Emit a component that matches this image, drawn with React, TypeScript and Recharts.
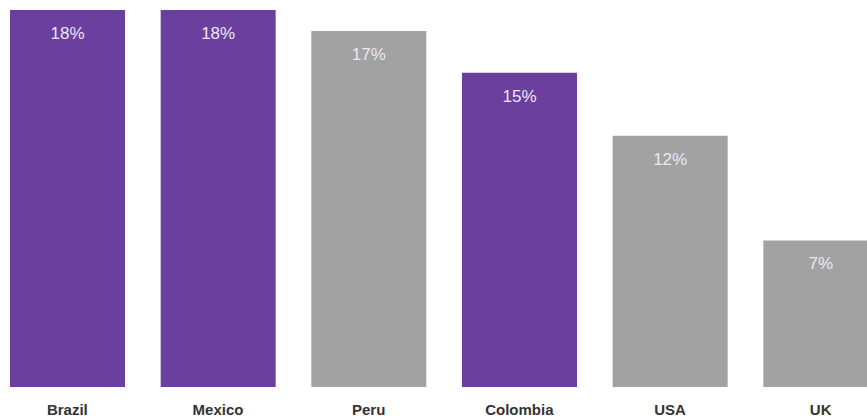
import { BarChart, Bar, XAxis, YAxis, Cell, LabelList } from 'recharts';

const countries = ['Brazil', 'Mexico', 'Peru', 'Colombia', 'USA', 'UK'];
const shares = [18, 18, 17, 15, 12, 7];
const highlighted = ['Brazil', 'Mexico', 'Colombia'];

const PURPLE = '#6a3f9e';
const GRAY = '#a2a2a2';

const data = countries.map((c, i) => ({ country: c, share: shares[i] }));

export default function App() {
  return (
    <div
      style={{
        position: 'fixed',
        left: 0,
        top: 0,
        width: 867,
        height: 419,
        overflow: 'hidden',
        background: '#ffffff',
        fontFamily: '"Liberation Sans", Arial, sans-serif',
      }}
    >
      <div style={{ position: 'absolute', left: -8, top: 0 }}>
        <BarChart
          width={904}
          height={419}
          data={data}
          margin={{ top: 10, right: 0, bottom: 0, left: 0 }}
          barSize={115}
        >
          <XAxis
            dataKey="country"
            height={32}
            axisLine={false}
            tickLine={false}
            tickMargin={11}
            interval={0}
            tick={{ fontSize: 15, fontWeight: 'bold', fill: '#333333' }}
          />
          <YAxis hide domain={[0, 18]} />
          <Bar dataKey="share" isAnimationActive={false}>
            {data.map(d => (
              <Cell key={d.country} fill={highlighted.includes(d.country) ? PURPLE : GRAY} />
            ))}
            <LabelList
              dataKey="share"
              position="insideTop"
              offset={17}
              formatter={(v: number) => `${v}%`}
              style={{ fontSize: 17, fill: '#ece8f2' }}
            />
          </Bar>
        </BarChart>
      </div>
    </div>
  );
}
